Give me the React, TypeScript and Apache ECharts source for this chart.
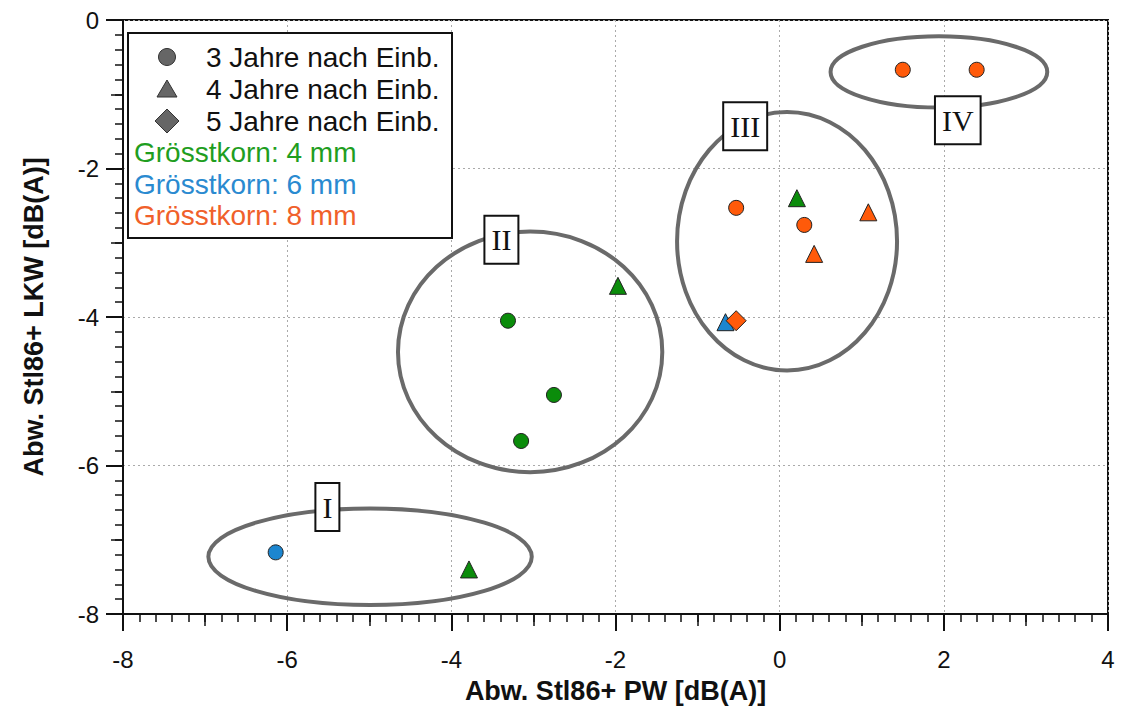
import React, { useEffect, useRef } from "react";
import * as echarts from "echarts";

// ---- data ----
const xTicks = [-8, -6, -4, -2, 0, 2, 4];
const yTicks = [-8, -6, -4, -2, 0];

const green4Circle = [[-3.31, -4.05], [-2.75, -5.05], [-3.15, -5.67]];
const green4Triangle = [[-1.97, -3.58], [0.21, -2.4], [-3.785, -7.4]];
const blue6Circle = [[-6.14, -7.17]];
const blue6Triangle = [[-0.66, -4.07]];
const orange8Circle = [[1.5, -0.67], [2.4, -0.67], [-0.53, -2.53], [0.3, -2.76]];
const orange8Triangle = [[1.08, -2.59], [0.42, -3.15]];
const orange8Diamond = [[-0.53, -4.05]];

const clusterNames = ["I", "II", "III", "IV"];
const clusterCx = [-4.99, -3.04, 0.09, 1.94];
const clusterCy = [-7.23, -4.47, -2.98, -0.7];
const clusterRx = [1.97, 1.61, 1.34, 1.32];
const clusterRy = [0.65, 1.62, 1.74, 0.48];
const clusterLabelX = [-5.51, -3.39, -0.42, 2.17];
const clusterLabelY = [-6.56, -2.96, -1.43, -1.35];

const legendShapes = ["3 Jahre nach Einb.", "4 Jahre nach Einb.", "5 Jahre nach Einb."];
const legendColors = ["Grösstkorn: 4 mm", "Grösstkorn: 6 mm", "Grösstkorn: 8 mm"];

const GREEN = "#0b8c0b";
const BLUE = "#1c86d0";
const ORANGE = "#ff5a0a";
const TXT_GREEN = "#1f9e1f";
const TXT_BLUE = "#2a8ad0";
const TXT_ORANGE = "#f0602a";

export default function App() {
  const ref = useRef<HTMLDivElement>(null);
  useEffect(() => {
    if (!ref.current) return;
    const chart = echarts.init(ref.current, undefined, { renderer: "svg" });

    const clusterData = clusterNames.map((n, i) => [
      clusterCx[i], clusterCy[i], clusterRx[i], clusterRy[i], clusterLabelX[i], clusterLabelY[i], n,
    ]);

    const sc = (name: string, data: number[][], symbol: string, size: number, color: string) => ({
      type: "scatter",
      name,
      data,
      symbol,
      symbolSize: size,
      xAxisIndex: 0,
      yAxisIndex: 0,
      itemStyle: { color, borderColor: "#222", borderWidth: 1, opacity: 1 },
      z: 5,
    });

    const font = "'Liberation Sans', Arial, sans-serif";
    const legendX = 128, legendY = 33;
    const rowY = [57, 89, 121, 152, 184, 215];
    const gray = "#666";

    const graphic: any[] = [
      {
        type: "rect",
        shape: { x: legendX, y: legendY, width: 324, height: 205 },
        style: { fill: "#fff", stroke: "#111", lineWidth: 2 },
        z: 10,
      },
      {
        type: "circle",
        shape: { cx: 167, cy: rowY[0], r: 8.5 },
        style: { fill: gray, stroke: "#333", lineWidth: 1 },
        z: 11,
      },
      {
        type: "polygon",
        shape: { points: [[167, rowY[1] - 9], [177, rowY[1] + 8], [157, rowY[1] + 8]] },
        style: { fill: gray, stroke: "#333", lineWidth: 1 },
        z: 11,
      },
      {
        type: "polygon",
        shape: { points: [[167, rowY[2] - 12], [179, rowY[2]], [167, rowY[2] + 12], [155, rowY[2]]] },
        style: { fill: gray, stroke: "#333", lineWidth: 1 },
        z: 11,
      },
      ...legendShapes.map((t, i) => ({
        type: "text",
        x: 206,
        y: rowY[i],
        style: { text: t, fill: "#111", font: `28px ${font}`, verticalAlign: "middle", align: "left" },
        z: 11,
      })),
      ...legendColors.map((t, i) => ({
        type: "text",
        x: 134,
        y: rowY[i + 3],
        style: {
          text: t,
          fill: [TXT_GREEN, TXT_BLUE, TXT_ORANGE][i],
          font: `28px ${font}`,
          verticalAlign: "middle",
          align: "left",
        },
        z: 11,
      })),
    ];

    const option: any = {
      animation: false,
      backgroundColor: "#fff",
      grid: {
        left: 123, right: 20, top: 20, bottom: 99,
        show: true, borderColor: "#111", borderWidth: 2, backgroundColor: "transparent",
      },
      xAxis: [
        {
          type: "value",
          min: xTicks[0], max: xTicks[xTicks.length - 1], interval: 2,
          position: "bottom",
          name: "Abw. Stl86+ PW [dB(A)]",
          nameLocation: "middle",
          nameGap: 63,
          nameTextStyle: { fontFamily: font, fontWeight: "bold", fontSize: 27, color: "#111" },
          axisLine: { show: true, onZero: false, lineStyle: { color: "#111", width: 2 } },
          axisTick: { show: true, inside: false, length: 17, lineStyle: { color: "#111", width: 2 } },
          minorTick: { show: true, splitNumber: 10, length: 8, lineStyle: { color: "#111", width: 1.5 } },
          axisLabel: { fontFamily: font, fontSize: 24, color: "#111", margin: 33 },
          splitLine: { show: true, lineStyle: { color: "#aaa", type: [2, 3], width: 1 } },
        },
        {
          type: "value",
          min: -8, max: 4, interval: 1,
          position: "bottom",
          axisLine: { show: false, onZero: false },
          axisTick: { show: true, inside: false, length: 12, lineStyle: { color: "#111", width: 1.5 } },
          axisLabel: { show: false },
          splitLine: { show: false },
        },
      ],
      yAxis: [
        {
          type: "value",
          min: yTicks[0], max: yTicks[yTicks.length - 1], interval: 2,
          position: "left",
          name: "Abw. Stl86+ LKW [dB(A)]",
          nameLocation: "middle",
          nameGap: 76,
          nameTextStyle: { fontFamily: font, fontWeight: "bold", fontSize: 27, color: "#111" },
          axisLine: { show: true, onZero: false, lineStyle: { color: "#111", width: 2 } },
          axisTick: { show: true, inside: false, length: 17, lineStyle: { color: "#111", width: 2 } },
          minorTick: { show: true, splitNumber: 10, length: 8, lineStyle: { color: "#111", width: 1.5 } },
          axisLabel: { fontFamily: font, fontSize: 24, color: "#111", margin: 24 },
          splitLine: { show: true, lineStyle: { color: "#aaa", type: [2, 3], width: 1 } },
        },
        {
          type: "value",
          min: -8, max: 0, interval: 1,
          position: "left",
          axisLine: { show: false, onZero: false },
          axisTick: { show: true, inside: false, length: 12, lineStyle: { color: "#111", width: 1.5 } },
          axisLabel: { show: false },
          splitLine: { show: false },
        },
      ],
      series: [
        {
          type: "custom",
          name: "clusters",
          xAxisIndex: 0,
          yAxisIndex: 0,
          clip: false,
          z: 3,
          data: clusterData,
          renderItem: (params: any, api: any) => {
            const c = api.coord([api.value(0), api.value(1)]);
            const rx = api.size([api.value(2), 0])[0];
            const ry = api.size([0, api.value(3)])[1];
            const l = api.coord([api.value(4), api.value(5)]);
            const name = clusterNames[params.dataIndex];
            return {
              type: "group",
              children: [
                {
                  type: "ellipse",
                  shape: { cx: c[0], cy: c[1], rx, ry },
                  style: { fill: "none", stroke: "#6a6a6a", lineWidth: 4 },
                },
                {
                  type: "text",
                  x: l[0],
                  y: l[1],
                  style: {
                    text: name,
                    font: "30px 'Liberation Serif', 'DejaVu Serif', serif",
                    fill: "#111",
                    align: "center",
                    verticalAlign: "middle",
                    backgroundColor: "#fff",
                    borderColor: "#111",
                    borderWidth: 2,
                    padding: [9, 6, 7, 6],
                  },
                },
              ],
            };
          },
        },
        sc("4mm 3J", green4Circle, "circle", 15, GREEN),
        sc("4mm 4J", green4Triangle, "triangle", 17, GREEN),
        sc("6mm 3J", blue6Circle, "circle", 15, BLUE),
        sc("6mm 4J", blue6Triangle, "triangle", 17, BLUE),
        sc("8mm 3J", orange8Circle, "circle", 15, ORANGE),
        sc("8mm 4J", orange8Triangle, "triangle", 17, ORANGE),
        sc("8mm 5J", orange8Diamond, "diamond", 20, ORANGE),
      ],
      graphic,
    };

    chart.setOption(option);
    return () => chart.dispose();
  }, []);

  return (
    <div
      ref={ref}
      style={{ position: "fixed", left: 0, top: 0, width: 1128, height: 713, background: "#fff" }}
    />
  );
}
